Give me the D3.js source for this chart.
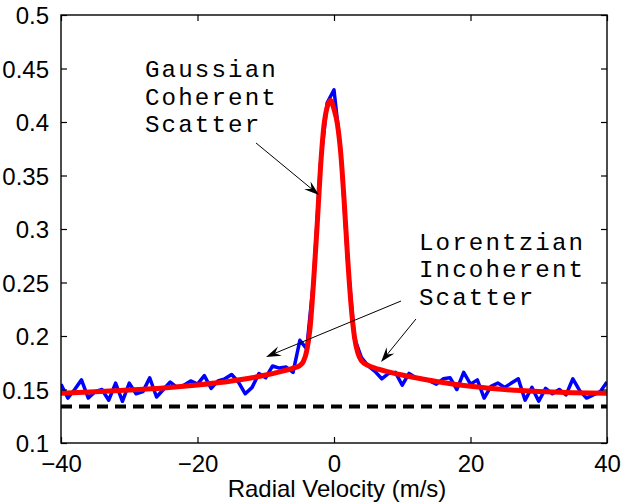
<!DOCTYPE html>
<html>
<head>
<meta charset="utf-8">
<script src="https://cdn.jsdelivr.net/npm/d3@7"></script>
<style>
  body { margin: 0; background: #fff; }
  svg { display: block; }
</style>
</head>
<body>
<svg id="chart" width="624" height="502"></svg>
<script>
// Measured spectrum (1 m/s bins)
const velocity = [
  -40,-39,-38,-37,-36,-35,-34,-33,-32,-31,-30,-29,-28,-27,-26,-25,-24,-23,-22,-21,
  -20,-19,-18,-17,-16,-15,-14,-13,-12,-11,-10,-9,-8,-7,-6,-5,-4,-3,-2,-1,
  0,1,2,3,4,5,6,7,8,9,10,11,12,13,14,15,16,17,18,19,
  20,21,22,23,24,25,26,27,28,29,30,31,32,33,34,35,36,37,38,39,40
];
const measured = [
  0.155,0.142,0.150,0.159,0.142,0.148,0.150,0.140,0.156,0.139,0.156,0.146,0.148,0.161,0.143,0.150,0.157,0.152,0.154,0.158,
  0.155,0.163,0.151,0.158,0.160,0.164,0.157,0.146,0.152,0.165,0.161,0.172,0.170,0.171,0.166,0.196,0.188,0.252,0.360,0.418,
  0.430,0.372,0.270,0.198,0.180,0.172,0.167,0.160,0.165,0.166,0.154,0.165,0.161,0.160,0.158,0.155,0.160,0.161,0.150,0.166,
  0.155,0.159,0.142,0.153,0.156,0.152,0.156,0.160,0.140,0.152,0.139,0.151,0.146,0.150,0.145,0.160,0.149,0.142,0.145,0.148,0.157
];

// Fitted model: Gaussian coherent peak on a Lorentzian incoherent background
const fitVelocity = [
  -40,-35,-30,-25,-20,-15,-12,-10,-8,-6,-5,-4.5,-4,-3.5,-3,-2.5,-2,-1.5,-1,-0.5,
  0,0.5,1,1.5,2,2.5,3,3.5,4,5,6,8,10,12,15,20,25,30,35,40
];
const fitValue = [
  0.1464,0.1478,0.1495,0.1515,0.1543,0.1580,0.1610,0.1635,0.1665,0.1700,0.1725,0.1760,0.1860,0.2080,0.2500,0.3000,0.3550,0.3950,0.4140,0.4200,
  0.4120,0.3980,0.3700,0.3250,0.2730,0.2290,0.1990,0.1840,0.1770,0.1725,0.1700,0.1665,0.1635,0.1610,0.1575,0.1530,0.1500,0.1482,0.1470,0.1464
];

// Noise floor
const floorVelocity = [-40, 40];
const floorValue = [0.134, 0.134];

// Axis ticks
const xTicks = [-40, -20, 0, 20, 40];
const yTicks = [0.1, 0.15, 0.2, 0.25, 0.3, 0.35, 0.4, 0.45, 0.5];

// Annotations (data coordinates)
const gaussLabel = { x: -27.7, y: 0.442, lines: ["Gaussian", "Coherent", "Scatter"] };
const lorentzLabel = { x: 12.45, y: 0.2804, lines: ["Lorentzian", "Incoherent", "Scatter"] };
const arrows = [
  { from: [-11.43, 0.3804], to: [-2.2, 0.3318] },
  { from: [9.82, 0.2327], to: [-9.96, 0.1804] },
  { from: [12.01, 0.2159], to: [6.89, 0.1757] }
];

const W = 624, H = 502;
const margin = { left: 61, right: 17, top: 15, bottom: 59 };
const svg = d3.select("#chart");

const x = d3.scaleLinear().domain([-40, 40]).range([margin.left, W - margin.right]);
const y = d3.scaleLinear().domain([0.1, 0.5]).range([H - margin.bottom, margin.top]);

const plot = svg.append("g");

// Clip to axes box
svg.append("defs").append("clipPath").attr("id", "box")
  .append("rect")
  .attr("x", x(-40)).attr("y", y(0.5))
  .attr("width", x(40) - x(-40)).attr("height", y(0.1) - y(0.5));

const lines = plot.append("g").attr("clip-path", "url(#box)");

const line = d3.line().x(d => x(d[0])).y(d => y(d[1]));

lines.append("path")
  .datum(velocity.map((v, i) => [v, measured[i]]))
  .attr("d", line)
  .attr("fill", "none")
  .attr("stroke", "#0000ff")
  .attr("stroke-width", 3.5)
  .attr("stroke-linejoin", "round");

lines.append("path")
  .datum(floorVelocity.map((v, i) => [v, floorValue[i]]))
  .attr("d", line)
  .attr("fill", "none")
  .attr("stroke", "#000")
  .attr("stroke-width", 4)
  .attr("stroke-dasharray", "11,7");

lines.append("path")
  .datum(fitVelocity.map((v, i) => [v, fitValue[i]]))
  .attr("d", d3.line().x(d => x(d[0])).y(d => y(d[1])).curve(d3.curveMonotoneX))
  .attr("fill", "none")
  .attr("stroke", "#ff0000")
  .attr("stroke-width", 5)
  .attr("stroke-linejoin", "round");

// Axes
const tickFont = "'Liberation Sans', Arial, sans-serif";
const xAxis = d3.axisBottom(x).tickValues(xTicks).tickSizeInner(-6).tickSizeOuter(0)
  .tickPadding(12).tickFormat(d => d < 0 ? "\u2212" + Math.abs(d) : String(d));
const yAxis = d3.axisLeft(y).tickValues(yTicks).tickSizeInner(-6).tickSizeOuter(0)
  .tickPadding(12).tickFormat(d => String(+d.toFixed(2)));

const gx = svg.append("g").attr("transform", `translate(0,${y(0.1)})`).call(xAxis);
const gy = svg.append("g").attr("transform", `translate(${x(-40)},0)`).call(yAxis);
[gx, gy].forEach(g => {
  g.select(".domain").remove();
  g.selectAll("line").attr("stroke", "#000").attr("stroke-width", 1.2);
  g.selectAll("text").attr("fill", "#000").style("font-family", tickFont).style("font-size", "24px");
});
gy.selectAll("text").attr("dy", "0.36em");
gx.selectAll("text").attr("dy", "0.71em");

// Mirrored ticks on top and right
const gxTop = svg.append("g").attr("transform", `translate(0,${y(0.5)})`)
  .call(d3.axisTop(x).tickValues(xTicks).tickSizeInner(-6).tickSizeOuter(0).tickFormat(""));
const gyRight = svg.append("g").attr("transform", `translate(${x(40)},0)`)
  .call(d3.axisRight(y).tickValues(yTicks).tickSizeInner(-6).tickSizeOuter(0).tickFormat(""));
[gxTop, gyRight].forEach(g => {
  g.select(".domain").remove();
  g.selectAll("line").attr("stroke", "#000").attr("stroke-width", 1.2);
});

// Box
svg.append("rect")
  .attr("x", x(-40)).attr("y", y(0.5))
  .attr("width", x(40) - x(-40)).attr("height", y(0.1) - y(0.5))
  .attr("fill", "none").attr("stroke", "#000").attr("stroke-width", 1.4);

// Axis title
svg.append("text")
  .attr("x", (x(-40) + x(40)) / 2 + 3).attr("y", 496.5)
  .attr("text-anchor", "middle")
  .style("font-family", tickFont).style("font-size", "24px")
  .text("Radial Velocity (m/s)");

// Annotation text, one text element per line
const monoFont = "'Liberation Mono', 'Courier New', monospace";
const lineStep = 27.5;
[gaussLabel, lorentzLabel].forEach(lab => {
  lab.lines.forEach((s, i) => {
    svg.append("text")
      .attr("x", x(lab.x)).attr("y", y(lab.y) + i * lineStep)
      .style("font-family", monoFont).style("font-size", "24.2px")
      .style("letter-spacing", "2.1px")
      .attr("fill", "#000")
      .text(s);
  });
});

// Annotation arrows
const headLen = 15, headW = 10;
arrows.forEach(a => {
  const x0 = x(a.from[0]), y0 = y(a.from[1]);
  const x1 = x(a.to[0]), y1 = y(a.to[1]);
  const ang = Math.atan2(y1 - y0, x1 - x0);
  const g = svg.append("g");
  g.append("line")
    .attr("x1", x0).attr("y1", y0)
    .attr("x2", x1 - Math.cos(ang) * headLen * 0.6).attr("y2", y1 - Math.sin(ang) * headLen * 0.6)
    .attr("stroke", "#000").attr("stroke-width", 1);
  g.append("path")
    .attr("d", `M0,0 L${-headLen},${-headW / 2} L${-headLen * 0.65},0 L${-headLen},${headW / 2} Z`)
    .attr("transform", `translate(${x1},${y1}) rotate(${ang * 180 / Math.PI})`)
    .attr("fill", "#000");
});
</script>
</body>
</html>
